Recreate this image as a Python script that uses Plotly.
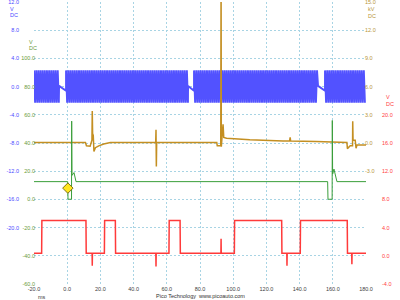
import plotly.graph_objects as go

# ---------------- data ----------------
# time axis (ms)
x_ticks = [-20, 0, 20, 40, 60, 80, 100, 120, 140, 160, 180]
x_labels = ["-20.0", "0.0", "20.0", "40.0", "60.0", "80.0", "100.0", "120.0", "140.0", "160.0", "180.0"]

# Channel A - blue, crank sensor (V)
blue_ticks = [-28, -24, -20, -16, -12, -8, -4, 0, 4, 8, 12]
blue_labels = ["", "", "-20.0", "-16.0", "-12.0", "-8.0", "-4.0", "0.0", "4.0", "8.0", "12.0"]
crank_gap_start = [-4.9, 72.8, 151.1]     # missing-tooth gaps (ms)
crank_gap_end = [-0.7, 76.4, 155.3]
crank_gap_v = [0.1, -0.6]                 # slanted line through the gap (V)
crank_tooth_ms = 1.3                      # tooth period (ms)
crank_peak_v = [2.3, -2.3]                # tooth peak / trough (V)

# Channel B - green, injector (V)
green_ticks = [-60, -40, -20, 0, 20, 40, 60, 80, 100, 120, 140]
green_labels = ["-60.0", "-40.0", "-20.0", "0.0", "20.0", "40.0", "60.0", "80.0", "100.0", "", ""]
green_t = [-20, 0.3, 0.5, 2.6, 2.7, 2.9, 4.1, 5.3, 156.9, 157.1, 159.6, 159.7, 159.9, 160.7, 162.5, 180]
green_v = [12.6, 12.6, 0.1, 0.1, 55.5, 17.0, 19.0, 12.6, 12.6, 0.1, 0.1, 56.0, 18.0, 21.5, 12.6, 12.6]
trigger_t = [0.4]
trigger_v = [8.0]

# Channel C - brown, ignition secondary (kV)
brown_ticks = [-15, -12, -9, -6, -3, 0, 3, 6, 9, 12, 15]
brown_labels = ["", "", "", "", "-3.0", "0.0", "3.0", "6.0", "9.0", "12.0", "15.0"]
brown_t = [-20, 11.0, 11.6, 13.8, 14.9, 15.1, 15.3, 15.7, 16.1, 17.0, 19.0, 22.0, 26.0,
           53.3, 53.5, 53.7, 53.9,
           90.1, 90.4, 92.5, 92.7, 92.85, 93.3, 93.9, 94.3, 96.0, 110.0, 130.0,
           134.0, 134.3, 134.6, 150.0,
           168.5, 168.8, 170.5, 171.9, 172.0, 172.2, 173.5, 174.0, 174.6, 180]
brown_v = [0.05, 0.05, -0.3, -0.35, 0.3, 3.4, 1.0, 0.8, -0.9, -0.5, -0.3, -0.1, 0.05,
           0.05, 1.4, -2.5, 0.05,
           0.05, -0.3, -0.3, 18.0, -0.4, 0.7, 2.0, 0.6, 0.5, 0.35, 0.22,
           0.22, 0.6, 0.2, 0.15,
           0.05, -0.6, -0.3, -0.3, 2.3, 0.3, 0.3, -0.55, -0.2, -0.2]

# Channel D - red, cam sensor (V)
red_ticks = [-4, 0, 4, 8, 12, 16, 20, 24, 28, 32, 36]
red_labels = ["-4.0", "0.0", "4.0", "8.0", "12.0", "16.0", "20.0", "", "", "", ""]
red_edges = [-15.4, 11.3, 22.4, 29.0, 61.3, 68.0, 100.7, 129.2, 140.4, 168.7]
red_low, red_high = 0.35, 5.0
red_spike_t = [15.1, 53.5, 92.7, 132.4, 171.5]
red_spike_v = [-1.4, -1.5, 2.4, -1.4, -1.2]

# ---------------- build traces from the data ----------------
bx, by = [], []
seg_start = [-20.0] + crank_gap_end
seg_end = crank_gap_start + [180.0]
for i, (s, e) in enumerate(zip(seg_start, seg_end)):
    t = s
    k = 0
    while t <= e:
        bx.append(t)
        by.append(crank_peak_v[k % 2])
        t += crank_tooth_ms / 2
        k += 1
    if i < len(crank_gap_start):
        bx += [crank_gap_start[i], crank_gap_end[i]]
        by += [crank_gap_v[0], crank_gap_v[1]]

events = sorted([(e, "edge", None) for e in red_edges] +
                [(t, "spike", v) for t, v in zip(red_spike_t, red_spike_v)])
rx, ry = [-20.0], [red_low]
cur = red_low
for t, kind, v in events:
    if kind == "edge":
        rx += [t, t + 0.15]
        nxt = red_high if cur == red_low else red_low
        ry += [cur, nxt]
        cur = nxt
    else:
        rx += [t - 0.1, t, t + 0.1]
        ry += [cur, v, cur]
rx.append(180.0)
ry.append(cur)

font_family = "Liberation Sans, Arial, sans-serif"
FS = 5.5
BLUE = "#5252ff"
BLUE_TXT = "#4a4aff"
GREEN = "#3a9e3a"
GREEN_TXT = "#6a9a3a"
BROWN = "#c48f22"
BROWN_TXT = "#b8963a"
RED = "#ff3a3a"
RED_TXT = "#ff4040"
GRID = "#a8d4e4"

fig = go.Figure()
fig.add_trace(go.Scatter(x=bx, y=by, mode="lines", line=dict(color=BLUE, width=1.9, simplify=False), yaxis="y"))
fig.add_trace(go.Scatter(x=rx, y=ry, mode="lines", line=dict(color=RED, width=1.5, simplify=False), yaxis="y2"))
fig.add_trace(go.Scatter(x=brown_t, y=brown_v, mode="lines", line=dict(color=BROWN, width=1.5, simplify=False), yaxis="y3"))
fig.add_trace(go.Scatter(x=green_t, y=green_v, mode="lines", line=dict(color=GREEN, width=1, simplify=False), yaxis="y4"))
fig.add_trace(go.Scatter(x=trigger_t, y=trigger_v, mode="markers", yaxis="y4",
                         marker=dict(symbol="diamond", size=8, color="#ffe61e",
                                     line=dict(color="#807010", width=1))))

common = dict(showline=False, zeroline=False, ticks="", ticklen=0, fixedrange=True,
              automargin=False, ticklabeloverflow="allow")
ydom = [16 / 300, 298 / 300]
fig.update_layout(
    width=400, height=300, margin=dict(l=0, r=0, t=0, b=0, autoexpand=False),
    paper_bgcolor="white", plot_bgcolor="white", showlegend=False,
    font=dict(family=font_family, size=FS),
    xaxis=dict(domain=[34 / 400, 366 / 400], range=[-20, 180], tickvals=x_ticks, ticktext=x_labels,
               showgrid=True, gridcolor=GRID, gridwidth=1, griddash="2px,2px",
               tickfont=dict(size=FS, color="#404040"), anchor="y", **common),
    yaxis=dict(domain=ydom, range=[-28, 12], tickvals=blue_ticks, ticktext=blue_labels,
               showgrid=True, gridcolor=GRID, gridwidth=1, griddash="2px,2px",
               anchor="free", position=19 / 400, side="left",
               tickfont=dict(size=FS, color=BLUE_TXT), **common),
    yaxis2=dict(overlaying="y", range=[-4, 36], tickvals=red_ticks, ticktext=red_labels,
                showgrid=False, anchor="free", position=381 / 400, side="right",
                tickfont=dict(size=FS, color=RED_TXT), **common),
    yaxis3=dict(overlaying="y", range=[-15, 15], tickvals=brown_ticks, ticktext=brown_labels,
                showgrid=False, anchor="free", position=364 / 400, side="right",
                tickfont=dict(size=FS, color=BROWN_TXT), **common),
    yaxis4=dict(overlaying="y", range=[-60, 140], tickvals=green_ticks, ticktext=green_labels,
                showgrid=False, anchor="free", position=35 / 400, side="left",
                tickfont=dict(size=FS, color=GREEN_TXT), **common),
)

def note(x, y, text, color, anchor="left"):
    fig.add_annotation(x=x / 400, y=1 - y / 300, xref="paper", yref="paper", text=text,
                       showarrow=False, xanchor=anchor, yanchor="middle",
                       font=dict(size=FS, color=color, family=font_family))

note(7.5, 9, "V", BLUE_TXT)
note(7.5, 15.5, "DC", BLUE_TXT)
note(26.5, 42, "V", GREEN_TXT)
note(26.5, 48.5, "DC", GREEN_TXT)
note(366, 9.5, "kV", BROWN_TXT)
note(366, 16, "DC", BROWN_TXT)
note(384, 97, "V", RED_TXT)
note(384, 104, "DC", RED_TXT)
note(36, 297, "ms", "#404040")
note(201, 296, "Pico Technology&nbsp;&nbsp;www.picoauto.com", "#303030", anchor="center")

fig.write_html("out.html")
